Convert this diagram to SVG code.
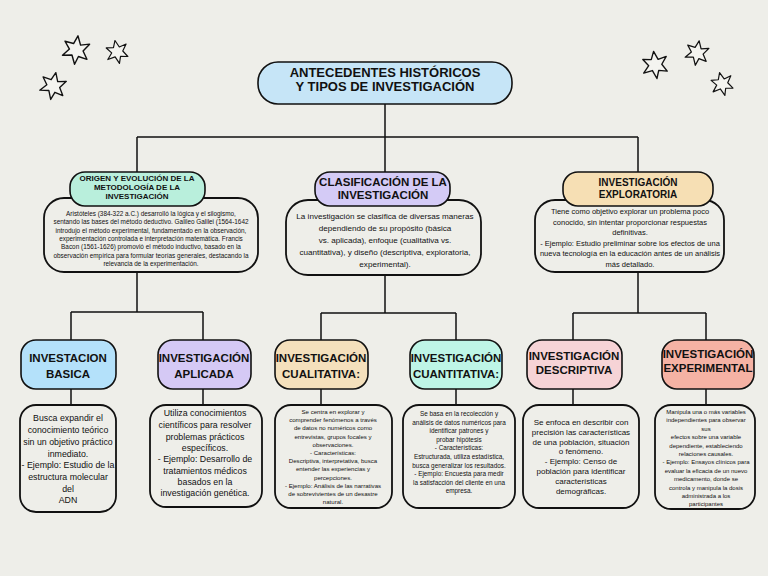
<svg xmlns="http://www.w3.org/2000/svg" width="768" height="576" viewBox="0 0 768 576">
<style>
.bg{fill:#EEEEE9}
.box{stroke:#111;stroke-width:1.6}
.body{fill:#EEEEE9;stroke:#111;stroke-width:1.8}
.con{fill:none;stroke:#111;stroke-width:1.5}
.star{fill:#F4F4F0;stroke:#111;stroke-width:1.3;stroke-linejoin:round}
text{font-family:"Liberation Sans",Arial,sans-serif;fill:#111;text-anchor:middle}
.h{font-weight:bold}
</style>
<defs>
<path id="st" d="M0,-13 L3.5,-5 L11.5,-7 L6.5,0 L11,7 L3,5.5 L0.5,13 L-3,5 L-11.5,6.5 L-6,0 L-11,-6.5 L-3,-5.5 Z"/>
</defs>
<rect class="bg" x="0" y="0" width="768" height="576"/>
<g id="stars">
<use href="#st" class="star" transform="translate(76,50) rotate(8) scale(1.1)"/>
<use href="#st" class="star" transform="translate(117,52) rotate(-10) scale(0.9)"/>
<use href="#st" class="star" transform="translate(53,86) rotate(12) scale(1.05)"/>
<use href="#st" class="star" transform="translate(655,65) rotate(-6) scale(1.05)"/>
<use href="#st" class="star" transform="translate(697,53) rotate(10) scale(0.95)"/>
<use href="#st" class="star" transform="translate(722,84) rotate(-12) scale(0.9)"/>
</g>
<g id="connectors">
<path class="con" d="M385,104 V137 M137,137 H638 M137,137 V172 M385,137 V172 M638,137 V172"/>
<path class="con" d="M137,272 V312 M71,312 H203 M71,312 V340 M203,312 V340 M71,389 V405 M203,389 V405"/>
<path class="con" d="M385,275 V313 M321,313 H456 M321,313 V340 M456,313 V340 M321,389 V405 M456,389 V405"/>
<path class="con" d="M638,272 V313 M573,313 H706 M573,313 V340 M706,313 V340 M573,389 V405 M706,389 V405"/>
</g>
<g id="title">
<rect class="box" x="258" y="62" width="254" height="42" rx="20" fill="#C6E5F7"/>
<text class="h" x="385" y="77" font-size="13">ANTECEDENTES HISTÓRICOS</text>
<text class="h" x="385" y="91" font-size="13">Y TIPOS DE INVESTIGACIÓN</text>
</g>
<g id="origen">
<rect class="body" x="44" y="198" width="214" height="74" rx="20"/>
<rect class="box" x="70" y="172" width="135" height="34" rx="15" fill="#B9EFDC"/>
<text class="h" font-size="8"><tspan x="137" y="181">ORIGEN Y EVOLUCIÓN DE LA</tspan><tspan x="137" y="190">METODOLOGÍA DE LA</tspan><tspan x="137" y="199">INVESTIGACIÓN</tspan></text>
<text font-size="6.4"><tspan x="151" y="216">Aristóteles (384-322 a.C.) desarrolló la lógica y el silogismo,</tspan><tspan x="151" y="224.3">sentando las bases del método deductivo. Galileo Galilei (1564-1642</tspan><tspan x="151" y="232.6">introdujo el método experimental, fundamentado en la observación,</tspan><tspan x="151" y="240.9">experimentación controlada e interpretación matemática. Francis</tspan><tspan x="151" y="249.2">Bacon (1561-1626) promovió el método inductivo, basado en la</tspan><tspan x="151" y="257.5">observación empírica para formular teorías generales, destacando la</tspan><tspan x="151" y="265.8">relevancia de la experimentación.</tspan></text>
</g>
<g id="clasificacion">
<rect class="body" x="286" y="200" width="195" height="75" rx="22"/>
<rect class="box" x="315" y="172" width="135" height="34" rx="15" fill="#D4CBF6"/>
<text class="h" font-size="11.5"><tspan x="383" y="186">CLASIFICACIÓN DE LA</tspan><tspan x="383" y="199">INVESTIGACIÓN</tspan></text>
<text font-size="8.1"><tspan x="385" y="219">La investigación se clasifica de diversas maneras</tspan><tspan x="385" y="231">dependiendo de su propósito (básica</tspan><tspan x="385" y="243">vs. aplicada), enfoque (cualitativa vs.</tspan><tspan x="385" y="255">cuantitativa), y diseño (descriptiva, exploratoria,</tspan><tspan x="385" y="267">experimental).</tspan></text>
</g>
<g id="exploratoria">
<rect class="body" x="535" y="200" width="189" height="72" rx="20"/>
<rect class="box" x="563" y="172" width="150" height="34" rx="15" fill="#F6DFB4"/>
<text class="h" font-size="10"><tspan x="638" y="186">INVESTIGACIÓN</tspan><tspan x="638" y="198">EXPLORATORIA</tspan></text>
<text font-size="7.5"><tspan x="630" y="214">Tiene como objetivo explorar un problema poco</tspan><tspan x="630" y="224.5">conocido, sin intentar proporcionar respuestas</tspan><tspan x="630" y="235">definitivas.</tspan><tspan x="630" y="245.5">- Ejemplo: Estudio preliminar sobre los efectos de una</tspan><tspan x="630" y="256">nueva tecnología en la educación antes de un análisis</tspan><tspan x="630" y="266.5">más detallado.</tspan></text>
</g>
<g id="basica">
<rect class="box" x="21" y="340" width="95" height="49" rx="15" fill="#B4E1FA"/>
<text class="h" font-size="11.5"><tspan x="68" y="362">INVESTACION</tspan><tspan x="68" y="378">BASICA</tspan></text>
<rect class="body" x="20" y="405" width="96" height="107" rx="16"/>
<text font-size="8.8"><tspan x="68" y="421">Busca expandir el</tspan><tspan x="68" y="433">conocimiento teórico</tspan><tspan x="68" y="445">sin un objetivo práctico</tspan><tspan x="68" y="457">inmediato.</tspan><tspan x="68" y="468">- Ejemplo: Estudio de la</tspan><tspan x="68" y="480">estructura molecular</tspan><tspan x="68" y="492">del</tspan><tspan x="68" y="503">ADN</tspan></text>
</g>
<g id="aplicada">
<rect class="box" x="158" y="340" width="93" height="49" rx="15" fill="#D5C9F5"/>
<text class="h" font-size="11.5"><tspan x="204" y="362">INVESTIGACIÓN</tspan><tspan x="204" y="378">APLICADA</tspan></text>
<rect class="body" x="150" y="405" width="112" height="102" rx="16"/>
<text font-size="8.8"><tspan x="205" y="416">Utiliza conocimientos</tspan><tspan x="205" y="428">científicos para resolver</tspan><tspan x="205" y="440">problemas prácticos</tspan><tspan x="205" y="451">específicos.</tspan><tspan x="205" y="462">- Ejemplo: Desarrollo de</tspan><tspan x="205" y="474">tratamientos médicos</tspan><tspan x="205" y="485">basados en la</tspan><tspan x="205" y="496">investigación genética.</tspan></text>
</g>
<g id="cualitativa">
<rect class="box" x="275" y="340" width="93" height="49" rx="15" fill="#F4E0BC"/>
<text class="h" font-size="11.5"><tspan x="321" y="362">INVESTIGACIÓN</tspan><tspan x="321" y="378">CUALITATIVA:</tspan></text>
<rect class="body" x="275" y="405" width="117" height="103" rx="16"/>
<text font-size="6.1"><tspan x="333" y="414">Se centra en explorar y</tspan><tspan x="333" y="422.2">comprender fenómenos a través</tspan><tspan x="333" y="430.4">de datos no numéricos como</tspan><tspan x="333" y="438.6">entrevistas, grupos focales y</tspan><tspan x="333" y="446.8">observaciones.</tspan><tspan x="333" y="455">- Características:</tspan><tspan x="333" y="463.2">Descriptiva, interpretativa, busca</tspan><tspan x="333" y="471.4">entender las experiencias y</tspan><tspan x="333" y="479.6">percepciones.</tspan><tspan x="333" y="487.8">- Ejemplo: Análisis de las narrativas</tspan><tspan x="333" y="496">de sobrevivientes de un desastre</tspan><tspan x="333" y="504.2">natural.</tspan></text>
</g>
<g id="cuantitativa">
<rect class="box" x="410" y="340" width="92" height="49" rx="15" fill="#BEF5E6"/>
<text class="h" font-size="11.5"><tspan x="456" y="362">INVESTIGACIÓN</tspan><tspan x="456" y="378">CUANTITATIVA:</tspan></text>
<rect class="body" x="403" y="405" width="112" height="103" rx="16"/>
<text font-size="6.4"><tspan x="459" y="416">Se basa en la recolección y</tspan><tspan x="459" y="424.6">análisis de datos numéricos para</tspan><tspan x="459" y="433.2">identificar patrones y</tspan><tspan x="459" y="441.8">probar hipótesis</tspan><tspan x="459" y="450.4">- Características:</tspan><tspan x="459" y="459">Estructurada, utiliza estadística,</tspan><tspan x="459" y="467.6">busca generalizar los resultados.</tspan><tspan x="459" y="476.2">- Ejemplo: Encuesta para medir</tspan><tspan x="459" y="484.8">la satisfacción del cliente en una</tspan><tspan x="459" y="493.4">empresa.</tspan></text>
</g>
<g id="descriptiva">
<rect class="box" x="527" y="340" width="95" height="49" rx="15" fill="#F6D3D6"/>
<text class="h" font-size="11.5"><tspan x="574" y="360">INVESTIGACIÓN</tspan><tspan x="574" y="374">DESCRIPTIVA</tspan></text>
<rect class="body" x="523" y="405" width="116" height="103" rx="16"/>
<text font-size="8"><tspan x="581" y="425">Se enfoca en describir con</tspan><tspan x="581" y="434.8">precisión las características</tspan><tspan x="581" y="444.6">de una población, situación</tspan><tspan x="581" y="454.4">o fenómeno.</tspan><tspan x="581" y="464.2">- Ejemplo: Censo de</tspan><tspan x="581" y="474">población para identificar</tspan><tspan x="581" y="483.8">características</tspan><tspan x="581" y="493.6">demográficas.</tspan></text>
</g>
<g id="experimental">
<rect class="box" x="662" y="340" width="92" height="49" rx="15" fill="#F5B2A4"/>
<text class="h" font-size="11.5"><tspan x="708" y="358">INVESTIGACIÓN</tspan><tspan x="708" y="372">EXPERIMENTAL</tspan></text>
<rect class="body" x="655" y="405" width="100" height="104" rx="16"/>
<text font-size="6"><tspan x="706" y="414">Manipula una o más variables</tspan><tspan x="706" y="422.4">independientes para observar</tspan><tspan x="706" y="430.8">sus</tspan><tspan x="706" y="439.2">efectos sobre una variable</tspan><tspan x="706" y="447.6">dependiente, estableciendo</tspan><tspan x="706" y="456">relaciones causales.</tspan><tspan x="706" y="464.4">- Ejemplo: Ensayos clínicos para</tspan><tspan x="706" y="472.8">evaluar la eficacia de un nuevo</tspan><tspan x="706" y="481.2">medicamento, donde se</tspan><tspan x="706" y="489.6">controla y manipula la dosis</tspan><tspan x="706" y="498">administrada a los</tspan><tspan x="706" y="506.4">participantes</tspan></text>
</g>
</svg>
